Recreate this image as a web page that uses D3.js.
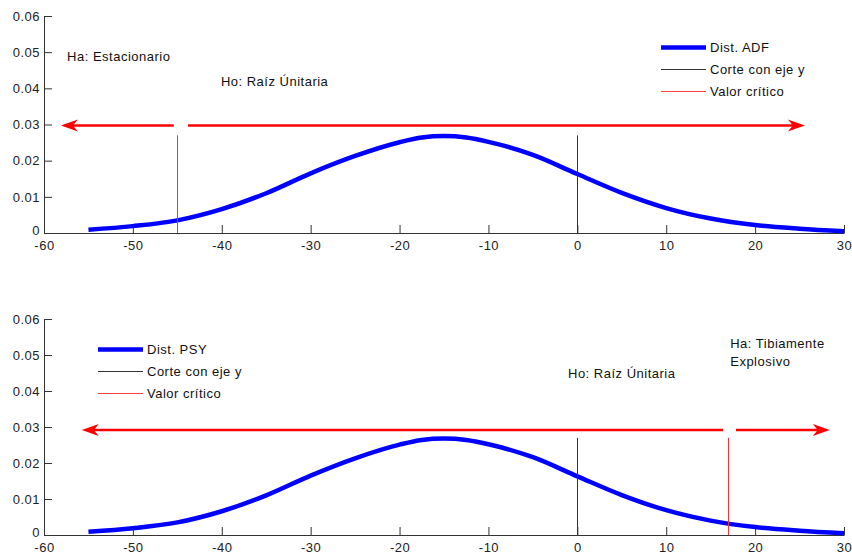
<!DOCTYPE html>
<html>
<head>
<meta charset="utf-8">
<script src="https://cdn.jsdelivr.net/npm/d3@7"></script>
<style>
  html, body { margin: 0; padding: 0; background: #fff; }
  svg { display: block; font-family: "Liberation Sans", Arial, sans-serif; }
  text { letter-spacing: 0.5px; }
</style>
</head>
<body>
<svg id="chart" width="852" height="559"></svg>
<script>
// ---------- data ----------
const xTicks = [-60, -50, -40, -30, -20, -10, 0, 10, 20, 30];
const xTickLabels = ["-60", "-50", "-40", "-30", "-20", "-10", "0", "10", "20", "30"];
const yTicks = [0, 0.01, 0.02, 0.03, 0.04, 0.05, 0.06];
const yTickLabels = ["0", "0.01", "0.02", "0.03", "0.04", "0.05", "0.06"];

const distX = [-55, -50, -45, -40, -35, -30, -25, -20, -17.5, -15, -12.5, -10, -5, 0, 5, 10, 15, 20, 25, 30];
const distY = [0.0009, 0.0019, 0.0035, 0.0066, 0.0110, 0.0165, 0.0213, 0.0251, 0.0264, 0.0268, 0.0264, 0.0252, 0.0216, 0.0163, 0.0111, 0.0069, 0.0040, 0.0022, 0.0012, 0.0005];

const legendLabelsTop = ["Dist. ADF", "Corte con eje y", "Valor crítico"];
const legendLabelsBottom = ["Dist. PSY", "Corte con eje y", "Valor crítico"];

const panels = [
  {
    legend: legendLabelsTop,
    critical: -45,
    vlineTop: 0.0270,
    arrowY: 0.0297,
    leftArrow: { from: -45.4, to: -58.1 },
    rightArrow: { from: -43.8, to: 25.6 },
    texts: [
      { x: -57.4, y: 0.0487, lines: ["Ha: Estacionario"] },
      { x: -40.1, y: 0.0418, lines: ["Ho: Raíz Únitaria"] }
    ]
  },
  {
    legend: legendLabelsBottom,
    critical: 17,
    vlineTop: 0.0270,
    arrowY: 0.0292,
    leftArrow: { from: 16.4, to: -55.75 },
    rightArrow: { from: 17.85, to: 28.4 },
    texts: [
      { x: -1.05, y: 0.0450, lines: ["Ho: Raíz Únitaria"] },
      { x: 17.2, y: 0.0533, lines: ["Ha: Tibiamente", "Explosivo"] }
    ]
  }
];

// ---------- layout ----------
const svg = d3.select("#chart");
const left = 44, right = 844;
const frames = [
  { top: 16, bottom: 233, legendX: 661, legendY: 46.5 },
  { top: 319, bottom: 535, legendX: 98, legendY: 349 }
];

const x = d3.scaleLinear().domain([-60, 30]).range([left, right]);

function arrowHead(g, x0, y0, dir) {
  const L = 17, W = 6, N = 12;
  const p = [
    [x0, y0],
    [x0 - dir * L, y0 - W],
    [x0 - dir * N, y0],
    [x0 - dir * L, y0 + W]
  ];
  g.append("path")
    .attr("d", "M" + p.map(d => d.join(",")).join("L") + "Z")
    .attr("fill", "#ff0000");
}

panels.forEach((pn, i) => {
  const f = frames[i];
  const y = d3.scaleLinear().domain([0, 0.06]).range([f.bottom, f.top]);
  const g = svg.append("g");

  const xAxis = d3.axisBottom(x).tickValues(xTicks).tickSizeInner(-8).tickSizeOuter(0).tickPadding(8)
    .tickFormat((d, k) => xTickLabels[k]);
  const yAxis = d3.axisLeft(y).tickValues(yTicks).tickSizeInner(-8).tickSizeOuter(0).tickPadding(4)
    .tickFormat((d, k) => yTickLabels[k]);

  const gx = g.append("g").attr("transform", `translate(0,${f.bottom})`).call(xAxis);
  const gy = g.append("g").attr("transform", `translate(${left},0)`).call(yAxis);
  [gx, gy].forEach(a => {
    a.select(".domain").attr("stroke", "#333");
    a.selectAll(".tick line").attr("stroke", "#333");
    a.selectAll("text").attr("font-size", 13).attr("fill", "#222")
      .attr("font-family", '"Liberation Sans", Arial, sans-serif');
  });
  // nudge the "0" y label up slightly so it clears the x labels
  gy.selectAll(".tick text").filter(d => d === 0).attr("dy", "0.1em");

  const line = d3.line().x(d => x(d[0])).y(d => y(d[1])).curve(d3.curveMonotoneX);
  g.append("path")
    .datum(distX.map((v, k) => [v, distY[k]]))
    .attr("d", line)
    .attr("fill", "none")
    .attr("stroke", "#0000ff")
    .attr("stroke-width", 4.5);

  g.append("line")
    .attr("x1", Math.round(x(0)) + 0.5).attr("x2", Math.round(x(0)) + 0.5)
    .attr("y1", y(0)).attr("y2", y(pn.vlineTop))
    .attr("stroke", "#333").attr("stroke-width", 1);

  g.append("line")
    .attr("x1", Math.round(x(pn.critical)) + 0.5).attr("x2", Math.round(x(pn.critical)) + 0.5)
    .attr("y1", y(0)).attr("y2", y(pn.vlineTop))
    .attr("stroke", "#ff3030").attr("stroke-width", 1);

  const ay = y(pn.arrowY);
  g.append("line")
    .attr("x1", x(pn.leftArrow.from)).attr("x2", x(pn.leftArrow.to) + 10)
    .attr("y1", ay).attr("y2", ay)
    .attr("stroke", "#ff0000").attr("stroke-width", 2.5);
  arrowHead(g, x(pn.leftArrow.to), ay, -1);
  g.append("line")
    .attr("x1", x(pn.rightArrow.from)).attr("x2", x(pn.rightArrow.to) - 10)
    .attr("y1", ay).attr("y2", ay)
    .attr("stroke", "#ff0000").attr("stroke-width", 2.5);
  arrowHead(g, x(pn.rightArrow.to), ay, 1);

  pn.texts.forEach(t => {
    t.lines.forEach((s, k) => {
      g.append("text")
        .attr("x", x(t.x)).attr("y", y(t.y) + k * 18)
        .attr("dy", "0.35em")
        .attr("font-size", 13).attr("fill", "#111")
        .text(s);
    });
  });

  const styles = [
    { stroke: "#0000ff", w: 4.5 },
    { stroke: "#333", w: 1 },
    { stroke: "#ff4040", w: 1 }
  ];
  pn.legend.forEach((lab, k) => {
    const ly = Math.round(f.legendY + k * 22) + 0.5;
    g.append("line")
      .attr("x1", f.legendX).attr("x2", f.legendX + 45)
      .attr("y1", ly).attr("y2", ly)
      .attr("stroke", styles[k].stroke).attr("stroke-width", styles[k].w);
    g.append("text")
      .attr("x", f.legendX + 49).attr("y", ly)
      .attr("dy", "0.35em")
      .attr("font-size", 13).attr("fill", "#111")
      .text(lab);
  });
});
</script>
</body>
</html>
